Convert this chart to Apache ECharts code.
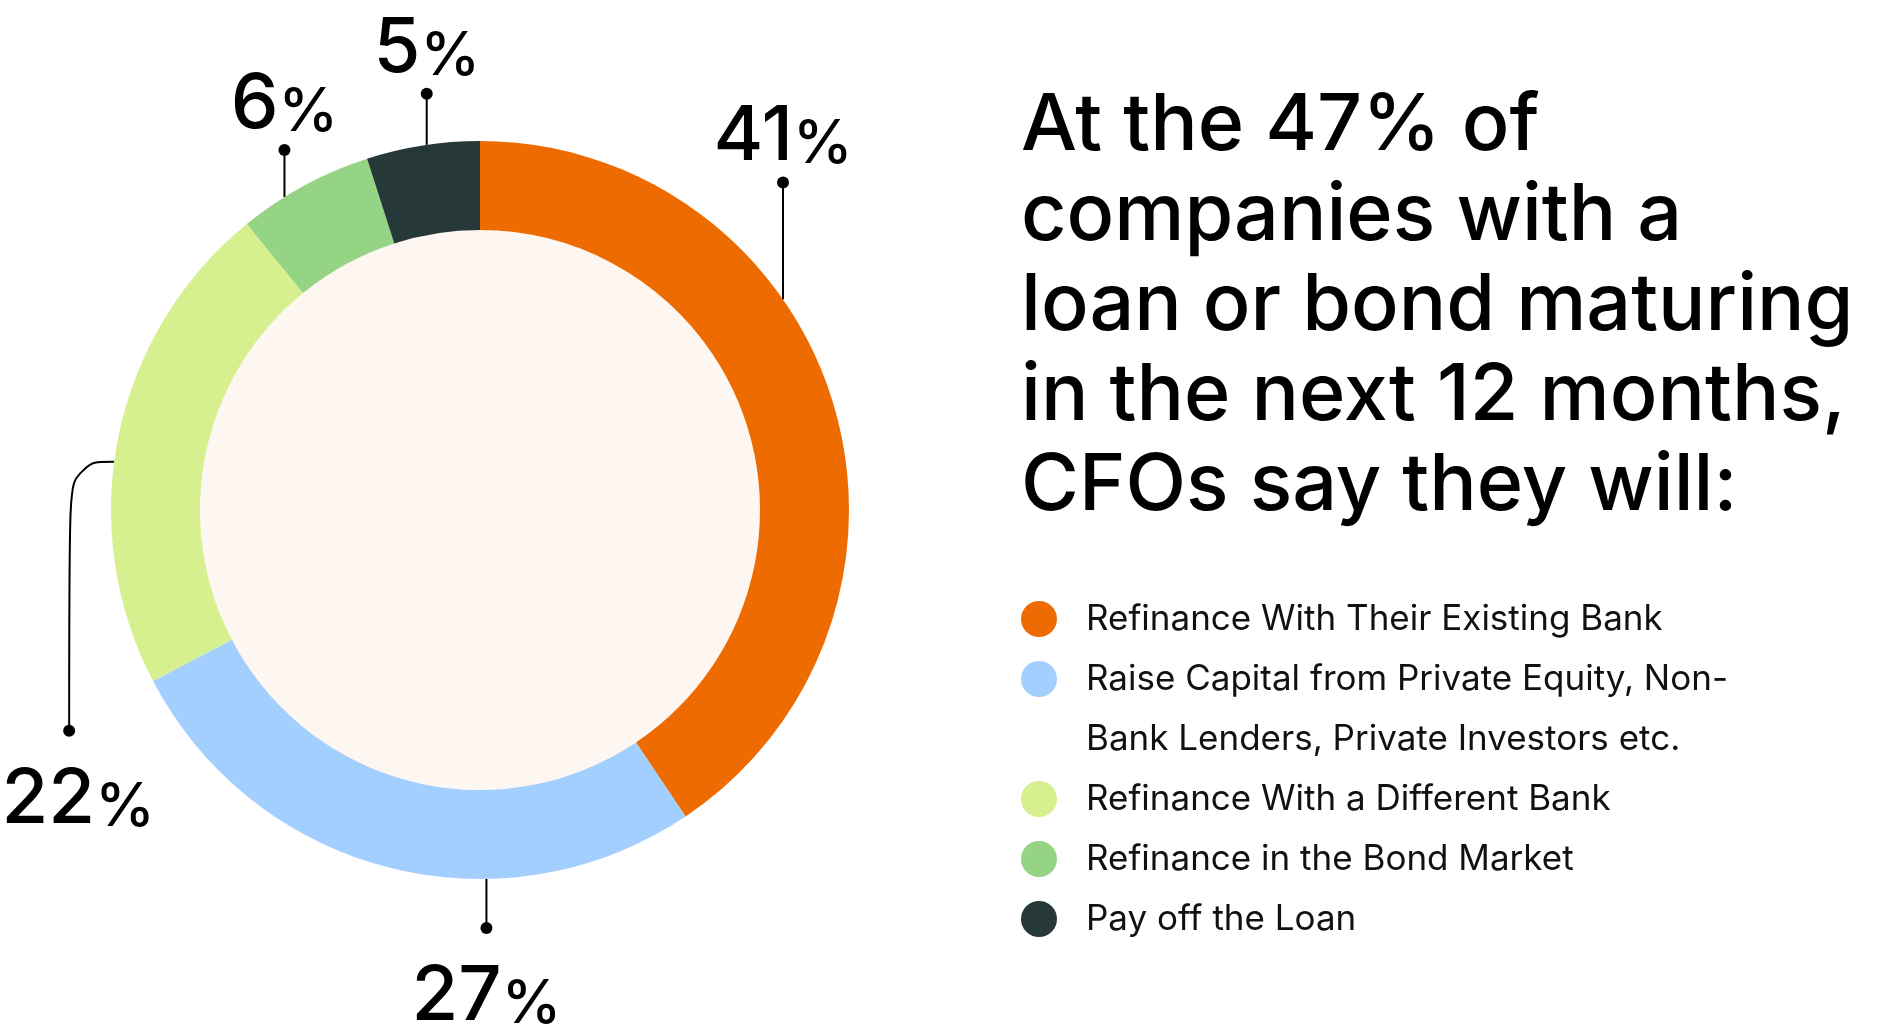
<!DOCTYPE html>
<html><head><meta charset="utf-8">
<script src="https://cdn.jsdelivr.net/npm/echarts@6/dist/echarts.min.js"></script>
<style>html,body{margin:0;padding:0;background:#fff}#c{width:1880px;height:1024px}</style>
</head><body><div id="c"></div>
<script>
// ---- data ----
const categories = [
  'Refinance With Their Existing Bank',
  'Raise Capital from Private Equity, Non-Bank Lenders, Private Investors etc.',
  'Refinance With a Different Bank',
  'Refinance in the Bond Market',
  'Pay off the Loan'
];
const shares = [41, 27, 22, 6, 5];
const colors = ['#EE6B02', '#A3CFFF', '#D6F08F', '#95D385', '#263838'];
const titleLines = ['At the 47% of', 'companies with a', 'loan or bond maturing', 'in the next 12 months,', 'CFOs say they will:'];

// ---- layout ----
const CX = 480, CY = 510, R_IN = 280, R_OUT = 369;
const FONT = 'Inter';
// leader line: anchor angle (deg, clockwise from 12 o'clock), direction, length, horizontal run, text shift
const leaders = [
  {angle: 55.2, dir: 'up', len: 117, dx: 0},
  {angle: 179, dir: 'down', len: 49, dx: 0},
  {angle: 277.5, dir: 'leftdown', len: 269, run: 45, dx: 9},
  {angle: 328, dir: 'up', len: 47, dx: 0},
  {angle: 351.7, dir: 'up', len: 51, dx: 0}
];
const legendRows = [0, 1, 3, 4, 5];

const chart = echarts.init(document.getElementById('c'), null, {renderer: 'canvas'});

function makeRich(dx) {
  return {
    num: {fontFamily: FONT, fontSize: 76, fontWeight: 500, color: '#000', lineHeight: 84, verticalAlign: 'bottom',
      padding: [0, 0, 0, 2 * dx]},
    pct: {fontFamily: FONT, fontSize: 60, fontWeight: 500, color: '#000', lineHeight: 76, verticalAlign: 'bottom'},
    dotT: {width: 12, height: 12, borderRadius: 6, backgroundColor: '#000', lineHeight: 14},
    dotB: {width: 12, height: 12, borderRadius: 6, backgroundColor: '#000', lineHeight: 46}
  };
}

const pieData = categories.map((name, i) => ({
  name: name,
  value: shares[i],
  itemStyle: {color: colors[i]},
  label: {rich: makeRich(leaders[i].dx)},
  labelLine: {smooth: leaders[i].dir === 'leftdown' ? 0.5 : 0}
}));

const option = {
  animation: false,
  backgroundColor: '#ffffff',
  title: {
    text: titleLines.join('\n'),
    left: 1021, top: 81, padding: 0,
    textStyle: {fontFamily: FONT, fontSize: 79, fontWeight: 500, lineHeight: 90, color: '#000'}
  },
  legend: categories.map((c, i) => ({
    data: [c],
    orient: 'vertical',
    left: 1021,
    top: 619 + 60 * legendRows[i] - (i === 1 ? 90 : 30),
    padding: 0, itemGap: 0,
    icon: 'circle', itemWidth: 36, itemHeight: 36,
    selectedMode: false,
    formatter: n => (n.indexOf('Non-') >= 0 ? '\n' + n.replace('Non-', 'Non-\n') : n),
    textStyle: {fontFamily: FONT, fontSize: 35, color: '#111', lineHeight: 60, padding: [0, 0, 0, 24]}
  })),
  series: [
    {
      type: 'pie', silent: true, z: 1,
      center: [CX, CY], radius: [0, R_IN],
      label: {show: false}, labelLine: {show: false},
      data: [{value: 1, name: 'inner', itemStyle: {color: '#FEF6F0'}}]
    },
    {
      type: 'pie', z: 2,
      center: [CX, CY], radius: [R_IN, R_OUT],
      startAngle: 90, clockwise: true,
      avoidLabelOverlap: false, minShowLabelAngle: 0,
      itemStyle: {borderWidth: 0},
      label: {
        show: true, position: 'outside',
        formatter: p => leaders[p.dataIndex].dir === 'up'
          ? '{num|' + p.value + '}{pct|%}\n{dotT| }'
          : '{dotB| }\n{num|' + p.value + '}{pct|%}',
        rich: makeRich(0)
      },
      labelLine: {show: true, length: 10, length2: 10, lineStyle: {color: '#000', width: 2}},
      labelLayout: function (p) {
        const L = leaders[p.dataIndex];
        const a = L.angle * Math.PI / 180;
        const sx = CX + R_OUT * Math.sin(a), sy = CY - R_OUT * Math.cos(a);
        let ex, ey, pts;
        if (L.dir === 'up') {
          ex = sx; ey = sy - L.len; pts = [[sx, sy], [sx, (sy + ey) / 2], [ex, ey]];
          return {x: ex, y: ey + 7, align: 'center', verticalAlign: 'bottom', labelLinePoints: pts};
        } else if (L.dir === 'down') {
          ex = sx; ey = sy + L.len; pts = [[sx, sy], [sx, (sy + ey) / 2], [ex, ey]];
        } else {
          ex = sx - L.run; ey = sy + L.len; pts = [[sx, sy], [ex, sy], [ex, ey]];
        }
        return {x: ex, y: ey - 23, align: 'center', verticalAlign: 'top', labelLinePoints: pts};
      },
      data: pieData
    }
  ]
};
chart.setOption(option);
</script>
</body></html>
